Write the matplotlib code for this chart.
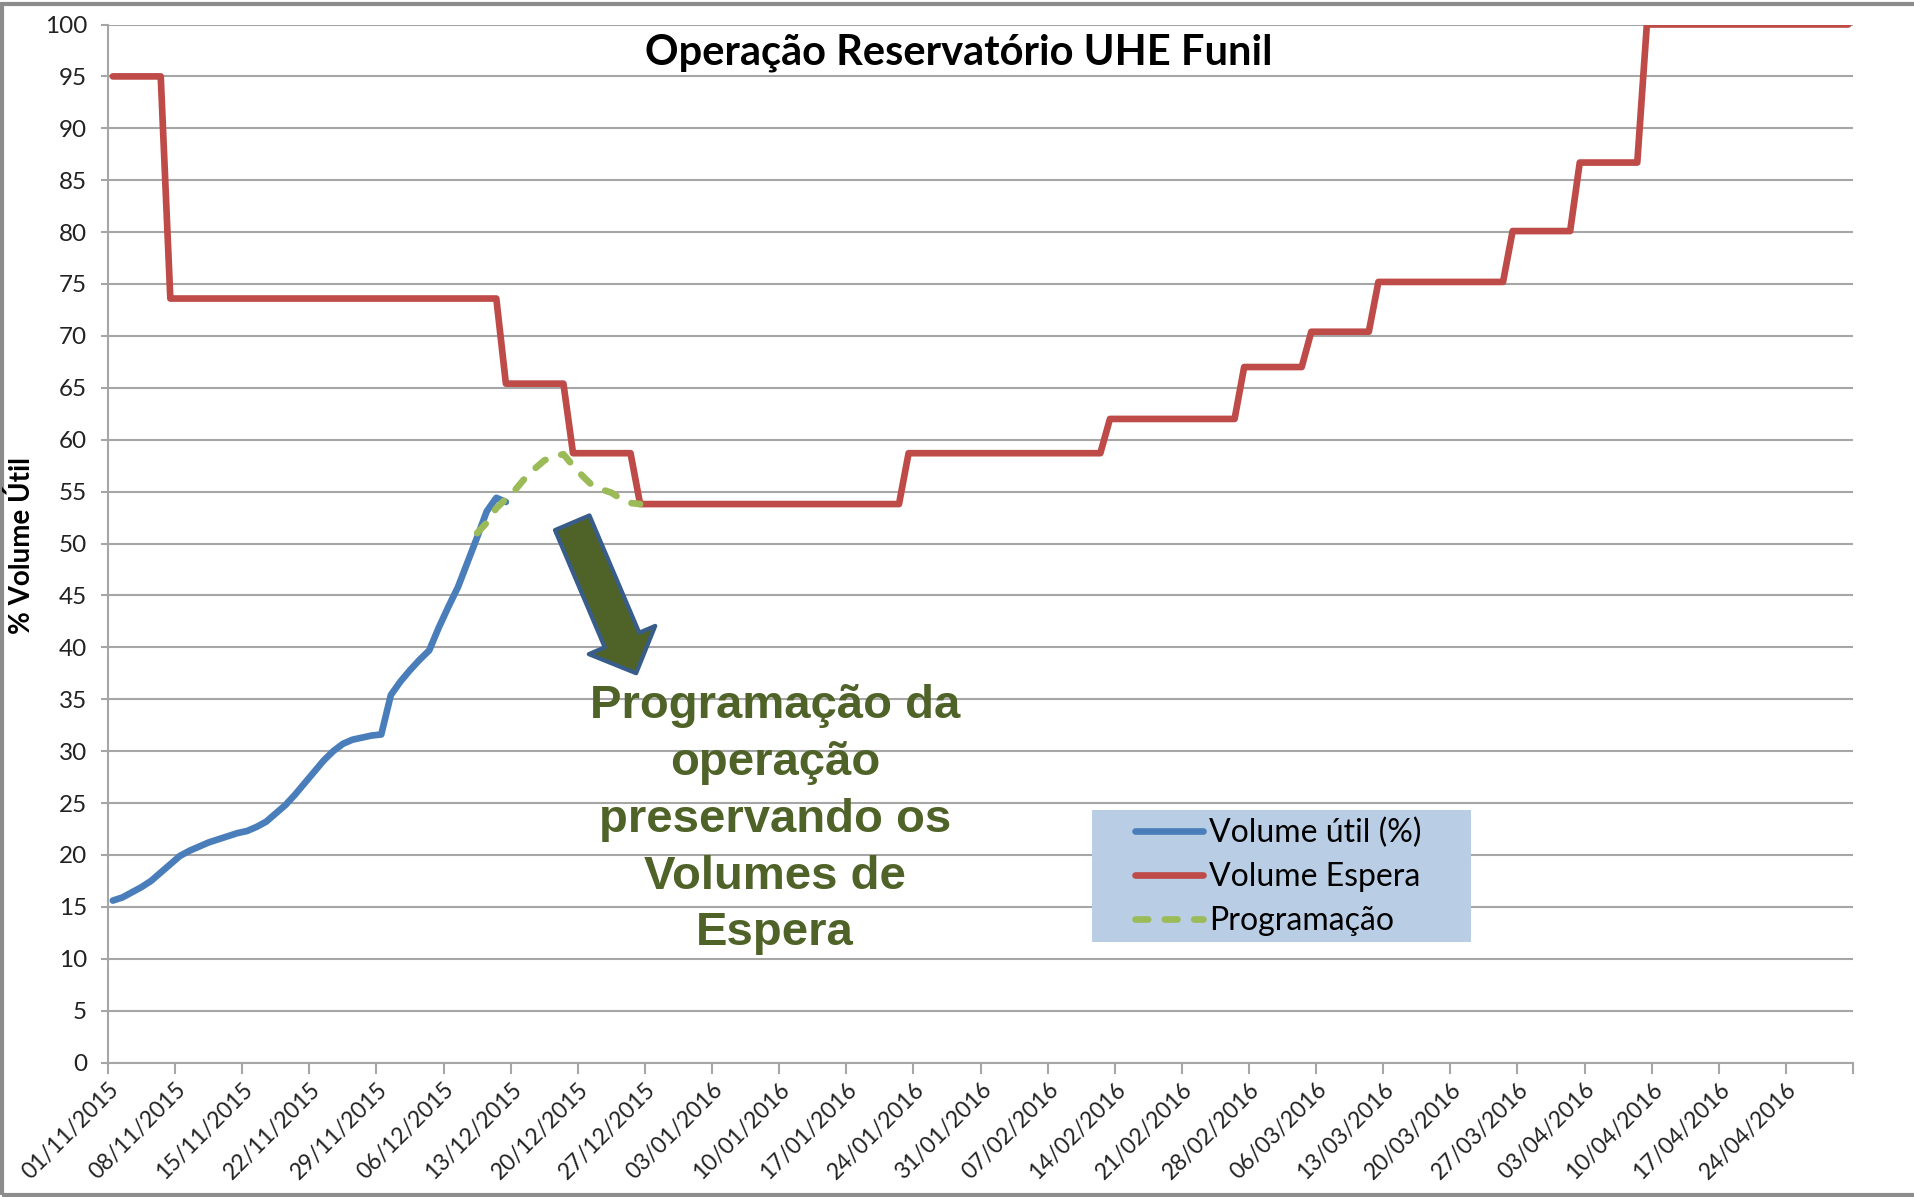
import numpy as np
import pandas as pd
import matplotlib
matplotlib.use('Agg')
import matplotlib.pyplot as plt
import matplotlib.transforms as mtransforms
from matplotlib.patches import FancyArrowPatch, Rectangle

# Volume útil (%) - daily, from 01/11/2015
util_start = '2015-11-01'
util_values = [15.6, 15.9, 16.4, 16.9, 17.5, 18.3, 19.1, 19.9, 20.4, 20.8,
               21.2, 21.5, 21.8, 22.1, 22.3, 22.7, 23.2, 24.0, 24.8, 25.8,
               26.9, 28.0, 29.1, 30.0, 30.7, 31.1, 31.3, 31.5, 31.6, 35.4,
               36.7, 37.8, 38.8, 39.7, 41.9, 43.9, 45.8, 48.2, 50.6, 53.1,
               54.4, 54.0]

# Programação - daily, from 09/12/2015
prog_start = '2015-12-09'
prog_values = [51.0, 52.0, 53.4, 54.3, 55.2, 56.3, 57.2, 58.0, 58.4, 58.6,
               57.5, 56.5, 55.6, 55.2, 54.9, 54.3, 53.9, 53.8]

# Volume Espera - breakpoints of the step curve
espera_dates = ['2015-11-01', '2015-11-06', '2015-11-07', '2015-12-11', '2015-12-12',
                '2015-12-18', '2015-12-19', '2015-12-25', '2015-12-26', '2016-01-22',
                '2016-01-23', '2016-02-12', '2016-02-13', '2016-02-26', '2016-02-27',
                '2016-03-04', '2016-03-05', '2016-03-11', '2016-03-12', '2016-03-25',
                '2016-03-26', '2016-04-01', '2016-04-02', '2016-04-08', '2016-04-09',
                '2016-04-30']
espera_values = [95.0, 95.0, 73.6, 73.6, 65.4, 65.4, 58.7, 58.7, 53.8, 53.8,
                 58.7, 58.7, 62.0, 62.0, 67.0, 67.0, 70.4, 70.4, 75.2, 75.2,
                 80.1, 80.1, 86.7, 86.7, 100.0, 100.0]

tick_dates = pd.date_range('2015-11-01', '2016-05-01', freq='7D')

# Excel date axis: each daily point sits in the middle of its day
half_day = pd.Timedelta(hours=12)
util_dates = pd.date_range(util_start, periods=len(util_values), freq='D') + half_day
prog_dates = pd.date_range(prog_start, periods=len(prog_values), freq='D') + half_day
espera_dt = pd.to_datetime(espera_dates) + half_day

plt.rcParams['font.family'] = ['Lato', 'DejaVu Sans']

fig = plt.figure(figsize=(19.15, 11.97), dpi=100)
ax = fig.add_axes([108/1915, 1 - 1062.5/1197, 1745/1915, 1038/1197])

lw = 4.8
ax.plot(util_dates, util_values, color='#4A7EBB', lw=lw, solid_capstyle='round',
        label='Volume útil (%)', zorder=3)
ax.plot(espera_dt, espera_values, color='#BE4B48', lw=lw, solid_capstyle='round',
        label='Volume Espera', zorder=3)
ax.plot(prog_dates, prog_values, color='#9BBB59', lw=lw, ls=(0, (1.9, 2.5)),
        dash_capstyle='round', label='Programação', zorder=4)

ax.set_ylim(0, 100)
ax.set_yticks(np.arange(0, 101, 5))
ax.set_xlim(pd.Timestamp('2015-11-01'), pd.Timestamp('2016-05-01'))
ax.set_xticks(tick_dates)
labels = [d.strftime('%d/%m/%Y') for d in tick_dates]
labels[-1] = ''
ax.set_xticklabels(labels, rotation=45, ha='right', va='top', rotation_mode='anchor')
shift = mtransforms.ScaledTranslation(9/100, 0, fig.dpi_scale_trans)
for lab in ax.get_xticklabels():
    lab.set_transform(lab.get_transform() + shift)

ax.grid(axis='y', color='#A6A6A6', lw=1.5)
ax.set_axisbelow(True)
for s in ['top', 'right']:
    ax.spines[s].set_visible(False)
for s in ['left', 'bottom']:
    ax.spines[s].set_color('#A6A6A6')
    ax.spines[s].set_linewidth(1.5)
ax.tick_params(axis='both', colors='#A6A6A6', labelcolor='#222222', width=1.5)
ax.tick_params(axis='x', length=8, pad=4, labelsize=16.5)
ax.tick_params(axis='y', length=5, pad=10, labelsize=17.5)

ax.text(0.4875, 0.973, 'Operação Reservatório UHE Funil', transform=ax.transAxes,
        ha='center', va='center', fontsize=30, fontweight='bold', color='black')
fig.text(22/1915, 1 - 545/1197, '% Volume Útil', rotation=90, ha='center', va='center',
         fontsize=20, fontweight='bold')

# legend box drawn separately, legend entries on top of it
ax.add_patch(Rectangle((0.5641, 0.1161), 0.2168, 0.1272, transform=ax.transAxes,
                       facecolor='#B9CDE5', edgecolor='none', zorder=5))
leg = ax.legend(loc='upper left', bbox_to_anchor=(0.5885, 0.2357), borderaxespad=0,
                fontsize=23, frameon=False, handlelength=2.13, handletextpad=0.19,
                labelspacing=0.43, borderpad=0)
leg.set_zorder(6)

ax.text(pd.Timestamp('2016-01-09 14:00'), 23.4,
        'Programação da\noperação\npreservando os\nVolumes de\nEspera',
        ha='center', va='center', fontsize=34, fontweight='bold', color='#4F6228',
        family=['Liberation Sans', 'DejaVu Sans'], linespacing=1.38, zorder=6)

arrow = FancyArrowPatch((pd.Timestamp('2015-12-19 10:00'), 52.0),
                        (pd.Timestamp('2015-12-26 02:00'), 37.5),
                        arrowstyle='simple,head_length=26,head_width=52,tail_width=27',
                        mutation_scale=1, shrinkA=0, shrinkB=0,
                        facecolor='#4F6228', edgecolor='#385D8A', lw=3, zorder=5)
ax.add_patch(arrow)

fig.patches.append(Rectangle((0.001, 0.002), 1.2, 0.995, transform=fig.transFigure,
                             fill=False, edgecolor='#8C8C8C', lw=3))

fig.savefig('out.png', dpi=100)
